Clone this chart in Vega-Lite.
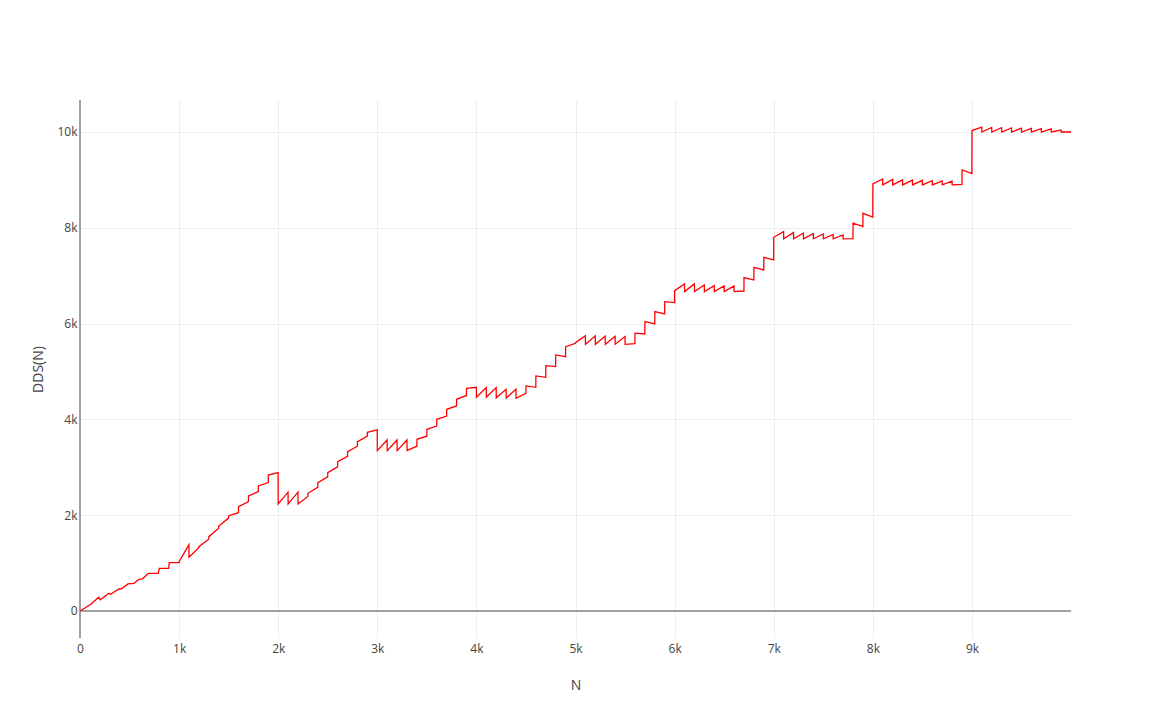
{
"$schema": "https://vega.github.io/schema/vega-lite/v6.json",
"autosize": {"type": "none"},
"padding": {"left": 80, "top": 100, "right": 81, "bottom": 80},
"width": 991,
"height": 538,
"background": "white",
"config": {
  "view": {"stroke": null},
  "axis": {"labelFont": "Open Sans", "titleFont": "Open Sans", "labelColor": "#444", "titleColor": "#444", "labelFontSize": 12, "titleFontSize": 14, "titleFontWeight": "normal", "grid": true, "gridColor": "#eeeeee", "gridWidth": 1, "domain": false, "ticks": false, "tickSize": 0}
},
"layer": [
  {
    "data": {"values": [{}]},
    "mark": {"type": "rule", "color": "#a0a0a0", "strokeWidth": 2},
    "encoding": {"y": {"datum": 0, "type": "quantitative"}}
  },
  {
    "data": {"values": [{}]},
    "mark": {"type": "rule", "color": "#a0a0a0", "strokeWidth": 2},
    "encoding": {"x": {"datum": 0, "type": "quantitative"}}
  },
  {
    "data": {"values": [
{"N":0,"DDS":0},{"N":110,"DDS":140},{"N":188,"DDS":286},{"N":205,"DDS":232},{"N":292,"DDS":369},{"N":310,"DDS":348},{"N":393,"DDS":459},{"N":420,"DDS":462},{"N":484,"DDS":564},{"N":545,"DDS":578},{"N":595,"DDS":661},{"N":630,"DDS":672},{"N":690,"DDS":786},{"N":790,"DDS":786},{"N":800,"DDS":891},{"N":895,"DDS":891},{"N":900,"DDS":1009},{"N":999,"DDS":1009},
{"N":1000,"DDS":1030},{"N":1099,"DDS":1385},{"N":1100,"DDS":1120},{"N":1199,"DDS":1320},{"N":1200,"DDS":1344},{"N":1299,"DDS":1497},{"N":1300,"DDS":1552},{"N":1399,"DDS":1726},{"N":1400,"DDS":1775},{"N":1499,"DDS":1940},{"N":1500,"DDS":1990},{"N":1599,"DDS":2053},{"N":1600,"DDS":2178},{"N":1699,"DDS":2283},{"N":1700,"DDS":2401},{"N":1799,"DDS":2491},{"N":1800,"DDS":2610},{"N":1899,"DDS":2680},{"N":1900,"DDS":2839},{"N":1999,"DDS":2888},
{"N":2000,"DDS":2234},{"N":2099,"DDS":2480},{"N":2100,"DDS":2234},{"N":2199,"DDS":2480},{"N":2200,"DDS":2234},{"N":2299,"DDS":2390},{"N":2300,"DDS":2457},{"N":2399,"DDS":2580},{"N":2400,"DDS":2680},{"N":2499,"DDS":2800},{"N":2500,"DDS":2889},{"N":2599,"DDS":3010},{"N":2600,"DDS":3118},{"N":2699,"DDS":3230},{"N":2700,"DDS":3327},{"N":2799,"DDS":3440},{"N":2800,"DDS":3536},{"N":2899,"DDS":3650},{"N":2900,"DDS":3731},{"N":2999,"DDS":3780},
{"N":3000,"DDS":3348},{"N":3099,"DDS":3570},{"N":3100,"DDS":3348},{"N":3199,"DDS":3570},{"N":3200,"DDS":3348},{"N":3299,"DDS":3570},{"N":3300,"DDS":3348},{"N":3399,"DDS":3440},{"N":3400,"DDS":3584},{"N":3499,"DDS":3650},{"N":3500,"DDS":3793},{"N":3599,"DDS":3860},{"N":3600,"DDS":4002},{"N":3699,"DDS":4070},{"N":3700,"DDS":4211},{"N":3799,"DDS":4280},{"N":3800,"DDS":4420},{"N":3899,"DDS":4500},{"N":3900,"DDS":4650},{"N":3999,"DDS":4670},
{"N":4000,"DDS":4461},{"N":4099,"DDS":4663},{"N":4100,"DDS":4461},{"N":4199,"DDS":4663},{"N":4200,"DDS":4450},{"N":4299,"DDS":4628},{"N":4300,"DDS":4445},{"N":4399,"DDS":4628},{"N":4400,"DDS":4441},{"N":4499,"DDS":4545},{"N":4500,"DDS":4698},{"N":4599,"DDS":4670},{"N":4600,"DDS":4907},{"N":4699,"DDS":4879},{"N":4700,"DDS":5122},{"N":4799,"DDS":5101},{"N":4800,"DDS":5345},{"N":4899,"DDS":5310},{"N":4900,"DDS":5519},{"N":4999,"DDS":5589},
{"N":5000,"DDS":5600},{"N":5099,"DDS":5745},{"N":5100,"DDS":5568},{"N":5199,"DDS":5745},{"N":5200,"DDS":5568},{"N":5299,"DDS":5740},{"N":5300,"DDS":5568},{"N":5399,"DDS":5735},{"N":5400,"DDS":5568},{"N":5499,"DDS":5730},{"N":5500,"DDS":5568},{"N":5599,"DDS":5580},{"N":5600,"DDS":5800},{"N":5699,"DDS":5784},{"N":5700,"DDS":6041},{"N":5799,"DDS":5993},{"N":5800,"DDS":6250},{"N":5899,"DDS":6201},{"N":5900,"DDS":6459},{"N":5999,"DDS":6438},
{"N":6000,"DDS":6689},{"N":6099,"DDS":6828},{"N":6100,"DDS":6668},{"N":6199,"DDS":6828},{"N":6200,"DDS":6668},{"N":6299,"DDS":6807},{"N":6300,"DDS":6668},{"N":6399,"DDS":6793},{"N":6400,"DDS":6668},{"N":6499,"DDS":6786},{"N":6500,"DDS":6668},{"N":6599,"DDS":6786},{"N":6600,"DDS":6668},{"N":6699,"DDS":6680},{"N":6700,"DDS":6960},{"N":6799,"DDS":6911},{"N":6800,"DDS":7176},{"N":6899,"DDS":7120},{"N":6900,"DDS":7385},{"N":6999,"DDS":7329},
{"N":7000,"DDS":7802},{"N":7099,"DDS":7920},{"N":7100,"DDS":7770},{"N":7199,"DDS":7905},{"N":7200,"DDS":7770},{"N":7299,"DDS":7890},{"N":7300,"DDS":7770},{"N":7399,"DDS":7880},{"N":7400,"DDS":7770},{"N":7499,"DDS":7870},{"N":7500,"DDS":7770},{"N":7599,"DDS":7860},{"N":7600,"DDS":7770},{"N":7699,"DDS":7850},{"N":7700,"DDS":7770},{"N":7799,"DDS":7775},{"N":7800,"DDS":8095},{"N":7899,"DDS":8025},{"N":7900,"DDS":8303},{"N":7999,"DDS":8225},
{"N":8000,"DDS":8916},{"N":8099,"DDS":9020},{"N":8100,"DDS":8895},{"N":8199,"DDS":9010},{"N":8200,"DDS":8895},{"N":8299,"DDS":9000},{"N":8300,"DDS":8895},{"N":8399,"DDS":8995},{"N":8400,"DDS":8895},{"N":8499,"DDS":8990},{"N":8500,"DDS":8895},{"N":8599,"DDS":8985},{"N":8600,"DDS":8895},{"N":8699,"DDS":8980},{"N":8700,"DDS":8895},{"N":8799,"DDS":8975},{"N":8800,"DDS":8895},{"N":8899,"DDS":8905},{"N":8900,"DDS":9208},{"N":8999,"DDS":9130},
{"N":9000,"DDS":10030},{"N":9099,"DDS":10100},{"N":9100,"DDS":10000},{"N":9199,"DDS":10095},{"N":9200,"DDS":10000},{"N":9299,"DDS":10090},{"N":9300,"DDS":10000},{"N":9399,"DDS":10085},{"N":9400,"DDS":10000},{"N":9499,"DDS":10080},{"N":9500,"DDS":10000},{"N":9599,"DDS":10075},{"N":9600,"DDS":10000},{"N":9699,"DDS":10070},{"N":9700,"DDS":10000},{"N":9799,"DDS":10065},{"N":9800,"DDS":10000},{"N":9899,"DDS":10040},{"N":9900,"DDS":10000},{"N":9999,"DDS":10000}
    ]},
    "mark": {"type": "line", "color": "#ff0000", "strokeWidth": 1.3, "clip": true},
    "encoding": {
      "x": {"field": "N", "type": "quantitative",
        "scale": {"domain": [0, 9999], "nice": false, "zero": false},
        "axis": {"title": "N", "grid": true, "values": [0,1000,2000,3000,4000,5000,6000,7000,8000,9000], "labelExpr": "datum.value == 0 ? '0' : (datum.value / 1000) + 'k'", "labelPadding": 5, "titleY": 47, "titleBaseline": "middle", "labelFlush": false, "labelOverlap": false}},
      "y": {"field": "DDS", "type": "quantitative",
        "scale": {"domain": [-564, 10668], "nice": false, "zero": false},
        "axis": {"title": "DDS(N)", "grid": true, "values": [0,2000,4000,6000,8000,10000], "labelExpr": "datum.value == 0 ? '0' : (datum.value / 1000) + 'k'", "labelPadding": 3, "titleX": -42, "titleY": 269, "titleAngle": -90, "titleAlign": "center", "titleBaseline": "middle", "labelFlush": false, "labelOverlap": false}}
    }
  }
]
}
